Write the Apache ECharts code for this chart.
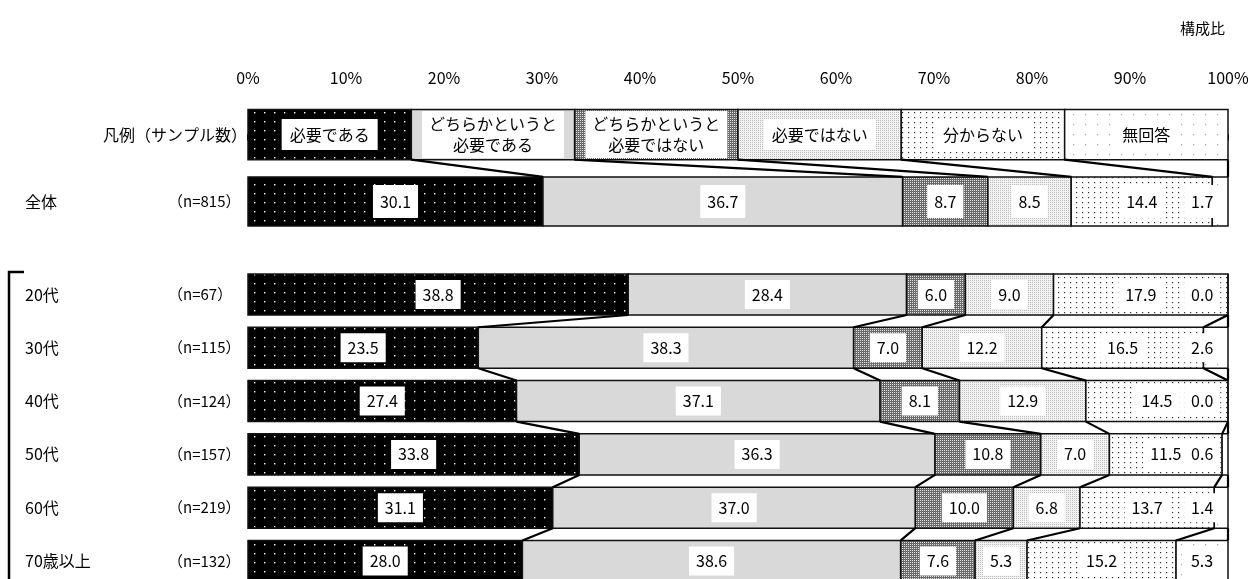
<!DOCTYPE html>
<html><head><meta charset="utf-8">
<script src="https://cdn.jsdelivr.net/npm/echarts@6/dist/echarts.min.js"></script>
<style>html,body{margin:0;padding:0;background:#fff}#c{width:1256px;height:579px}</style>
</head><body><div id="c"></div>
<script>
// ---- data ----
const categories = ['必要である','どちらかというと必要である','どちらかというと必要ではない','必要ではない','分からない','無回答'];
const legendLabels = ['必要である','どちらかというと\n必要である','どちらかというと\n必要ではない','必要ではない','分からない','無回答'];
const legendShares = [100/6,100/6,100/6,100/6,100/6,100/6];
const rowNames = ['全体','20代','30代','40代','50代','60代','70歳以上'];
const sampleSizes = ['（n=815）','（n=67）','（n=115）','（n=124）','（n=157）','（n=219）','（n=132）'];
const hitsuyou      = [30.1,38.8,23.5,27.4,33.8,31.1,28.0];
const dochiraHitsu  = [36.7,28.4,38.3,37.1,36.3,37.0,38.6];
const dochiraFuyou  = [8.7,6.0,7.0,8.1,10.8,10.0,7.6];
const fuyou         = [8.5,9.0,12.2,12.9,7.0,6.8,5.3];
const wakaranai     = [14.4,17.9,16.5,14.5,11.5,13.7,15.2];
const mukaitou      = [1.7,0.0,2.6,0.0,0.6,1.4,5.3];
const xTicks = [0,10,20,30,40,50,60,70,80,90,100];
const seriesValues = [hitsuyou, dochiraHitsu, dochiraFuyou, fuyou, wakaranai, mukaitou];

// ---- layout (not data) ----
const FONT = '"Noto Sans CJK JP", sans-serif';
const legendPos = 0;
const rowPos = [1.255, 3, 4, 5, 6, 7, 8];
const rowH = [0.92, 0.77, 0.77, 0.77, 0.77, 0.77, 0.77];
const legendH = 0.94;

function pat(w, h, bg, dots) {
  const c = document.createElement('canvas'); c.width = w; c.height = h;
  const g = c.getContext('2d'); g.fillStyle = bg; g.fillRect(0, 0, w, h);
  dots.forEach(d => { g.fillStyle = d[3]; g.fillRect(d[0], d[1], d[2], d[2]); });
  return {image: c, repeat: 'repeat'};
}
const fills = [
  pat(10, 9, '#000', [[4, 4, 1.4, '#fff']]),
  '#d9d9d9',
  pat(2, 2, '#6a6a6a', [[0, 0, 1, '#e0e0e0']]),
  pat(2, 2, '#f2f2f2', [[0, 0, 1, '#bdbdbd']]),
  pat(6, 5, '#fff', [[2, 2, 1.2, '#333']]),
  pat(12, 10, '#fff', [[5, 4, 1.2, '#aaa']])
];

function cum(arr) { const r = [0]; arr.forEach(v => r.push(Math.min(100, r[r.length - 1] + v))); return r; }
const legendCum = cum(legendShares);
const rowCum = rowNames.map((_, i) => cum(seriesValues.map(s => s[i])));

const series = [];
categories.forEach((name, c) => {
  const data = [[legendCum[c], legendCum[c + 1], legendPos, 0, -1]];
  rowNames.forEach((_, i) => data.push([rowCum[i][c], rowCum[i][c + 1], rowPos[i], seriesValues[c][i], i]));
  series.push({
    type: 'custom', name, data, z: 2,
    renderItem(params, api) {
      const s = api.value(0), e = api.value(1), pos = api.value(2), val = api.value(3), ri = api.value(4);
      const hu = ri < 0 ? legendH : rowH[ri];
      const h = api.size([0, hu])[1];
      const a = api.coord([s, pos]), b = api.coord([e, pos]);
      const right = api.coord([100, pos])[0];
      const children = [{
        type: 'rect',
        shape: {x: a[0], y: a[1] - h / 2, width: b[0] - a[0], height: h},
        style: {fill: fills[c], stroke: '#111', lineWidth: 1.5}
      }];
      const text = ri < 0 ? legendLabels[c] : val.toFixed(1);
      const fs = 16;
      const lines = text.split('\n');
      const maxLen = Math.max(...lines.map(l => l.length));
      const estW = ri < 0 ? maxLen * fs + 14 : text.length * 9.2 + 14;
      let cx = (a[0] + b[0]) / 2;
      cx = Math.min(cx, right - estW / 2 - 5);
      let pad;
      if (lines.length > 1) pad = [3, 7, 2, 7];
      else if (ri < 0) pad = [6, 8, 5, 8];
      else if (ri === 0) pad = [7, 7, 6, 7];
      else pad = [5, 7, 4, 7];
      children.push({
        type: 'text', z2: 10,
        style: {
          text, x: cx, y: a[1], align: 'center', verticalAlign: 'middle',
          font: fs + 'px ' + FONT, fill: '#000', backgroundColor: '#fff',
          padding: pad, lineHeight: lines.length > 1 ? 21 : fs + 4
        }
      });
      return {type: 'group', children};
    }
  });
});

// connecting lines
const conn = [];
for (let k = 1; k <= 6; k++) conn.push([legendCum[k], legendPos + legendH / 2, rowCum[0][k], rowPos[0] - rowH[0] / 2]);
for (let i = 1; i < rowNames.length - 1; i++)
  for (let k = 1; k <= 6; k++) conn.push([rowCum[i][k], rowPos[i] + rowH[i] / 2, rowCum[i + 1][k], rowPos[i + 1] - rowH[i + 1] / 2]);
series.push({
  type: 'custom', name: 'conn', data: conn, z: 3,
  renderItem(params, api) {
    const p = api.coord([api.value(0), api.value(1)]), q = api.coord([api.value(2), api.value(3)]);
    return {type: 'line', shape: {x1: p[0], y1: p[1], x2: q[0], y2: q[1]}, style: {stroke: '#000', lineWidth: 2.2}};
  }
});

// row labels + bracket
const labelData = [[legendPos, -1]].concat(rowNames.map((_, i) => [rowPos[i], i]));
series.push({
  type: 'custom', name: 'labels', data: labelData, z: 4,
  renderItem(params, api) {
    const pos = api.value(0), i = api.value(1);
    const y = api.coord([0, pos])[1];
    const ch = [];
    if (i < 0) {
      ch.push({type: 'text', style: {text: '凡例（サンプル数）', x: 247, y, align: 'right', verticalAlign: 'middle', font: '16px ' + FONT, fill: '#000'}});
    } else {
      ch.push({type: 'text', style: {text: rowNames[i], x: 25, y, align: 'left', verticalAlign: 'middle', font: '16px ' + FONT, fill: '#000'}});
      ch.push({type: 'text', style: {text: sampleSizes[i], x: 168, y, align: 'left', verticalAlign: 'middle', font: '15px ' + FONT, fill: '#000'}});
    }
    if (i === 1) {
      const top = y - api.size([0, rowH[1]])[1] / 2 - 2;
      ch.push({type: 'polyline', shape: {points: [[24, top], [9, top], [9, 600]]}, style: {stroke: '#000', lineWidth: 2.5, fill: null}});
    }
    return {type: 'group', children: ch};
  }
});

const chart = echarts.init(document.getElementById('c'), null, {renderer: 'canvas'});
chart.setOption({
  animation: false,
  backgroundColor: '#fff',
  title: {text: '構成比', right: 26, top: 16, textStyle: {fontSize: 15, fontWeight: 'normal', color: '#000', fontFamily: FONT}},
  grid: {left: 248, right: 28, top: 100, bottom: 0, containLabel: false},
  xAxis: {
    type: 'value', position: 'top', min: xTicks[0], max: xTicks[xTicks.length - 1], interval: xTicks[1] - xTicks[0],
    axisLabel: {formatter: '{value}%', fontSize: 16, color: '#000', margin: 14, fontFamily: FONT},
    axisLine: {show: true, lineStyle: {color: '#000', width: 2}},
    axisTick: {show: true, inside: true, length: 6, lineStyle: {color: '#000', width: 2}},
    splitLine: {show: false}
  },
  yAxis: {type: 'value', inverse: true, min: -0.649, max: 8.338, show: false},
  series
});
</script></body></html>
